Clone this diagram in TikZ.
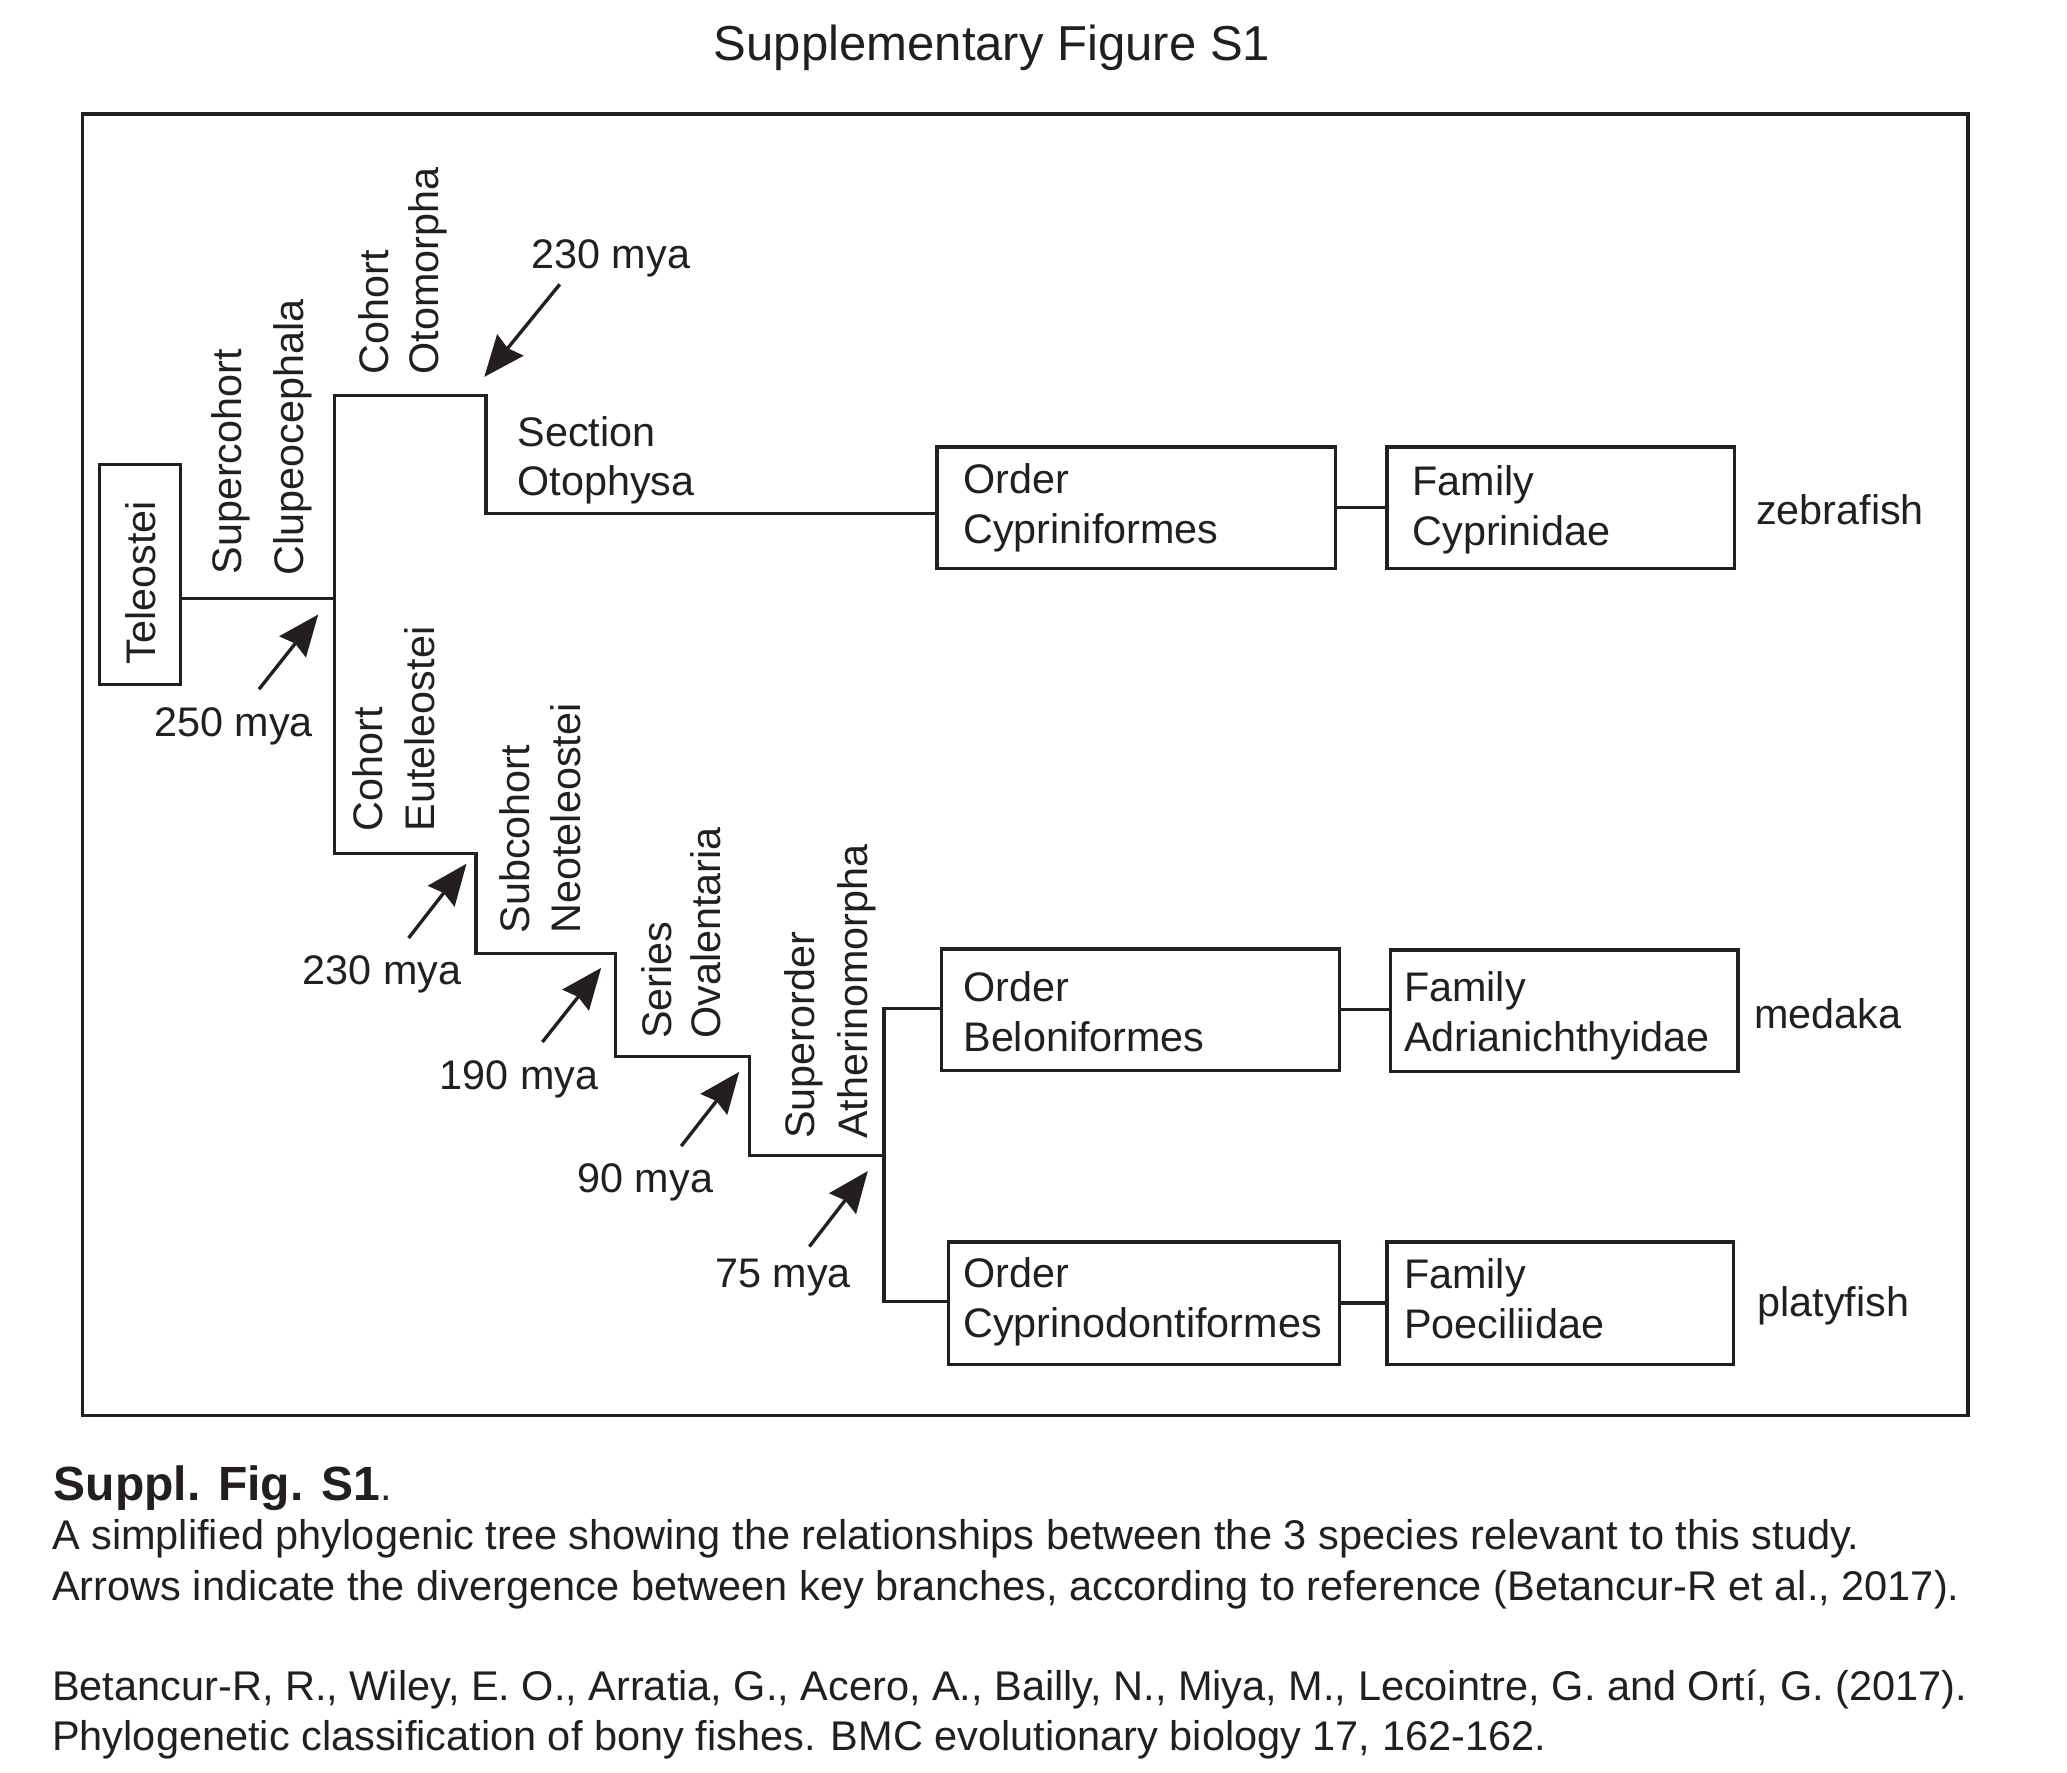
\documentclass[tikz,border=0pt]{standalone}
\usepackage{fontspec}
\setmainfont{Liberation Sans}
\usetikzlibrary{arrows.meta}
\definecolor{ink}{HTML}{231F20}
\newcommand\fsmain{\fontsize{15.5pt}{18.5pt}\selectfont}
\newcommand\fscap{\fontsize{15.56pt}{18.5pt}\selectfont}
\newcommand\fstitle{\fontsize{18.4pt}{22pt}\selectfont}
\newcommand\fsbold{\fontsize{18.0pt}{22pt}\selectfont\bfseries}
\begin{document}
\begin{tikzpicture}[x=0.375pt, y=-0.375pt,
  txt/.style={anchor=base west, inner sep=0pt, font=\fsmain, text=ink},
  captxt/.style={txt, font=\fscap},
  rot/.style={txt, rotate=90},
  box/.style={draw=ink, line width=1.26pt, inner sep=0pt, minimum height=45.7pt},
  tree/.style={draw=ink, line width=1.26pt},
  arr/.style={draw=ink, line width=1.26pt, -{Stealth[length=15.4pt, width=12.6pt, inset=1.5pt]}}]
\useasboundingbox (0,0) rectangle (2067,1772);

% title
\node[txt, font=\fstitle] (title) at (713.3,60) {Supplementary Figure S1};

% frame
\draw[tree] (82.2,114) rectangle (1967.9,1415.4);

% boxes
\node[box, minimum width=30.3pt, minimum height=82.35pt] (tel) at (139.8,574.5) {};
\node[rot] (telt) at (155.7,664.8) {Teleostei};

\node[box, minimum width=149.5pt] (oc) at (1136.4,507.75) {};
\node[box, minimum width=130.2pt] (fc) at (1560.7,507.75) {};
\node[box, minimum width=149.2pt, minimum height=45.6pt] (ob) at (1140.35,1009.75) {};
\node[box, minimum width=130.2pt, minimum height=45.5pt] (fa) at (1564.3,1010.7) {};
\node[box, minimum width=146.5pt, minimum height=45.9pt] (ocd) at (1143.95,1303.05) {};
\node[box, minimum width=129.9pt, minimum height=45.9pt] (fp) at (1560.35,1303.05) {};

% box texts
\node[txt] (oc1) at (962.9,493.7) {Order};
\node[txt] (oc2) at (962.9,543) {Cypriniformes};
\node[txt] (fc1) at (1412,495.9) {Family};
\node[txt] (fc2) at (1412,545.9) {Cyprinidae};
\node[txt] (ob1) at (962.9,1001.8) {Order};
\node[txt] (ob2) at (962.9,1051.8) {Beloniformes};
\node[txt] (fa1) at (1403.6,1001.8) {Family};
\node[txt] (fa2) at (1403.6,1051.8) {Adrianichthyidae};
\node[txt] (ocd1) at (962.9,1287.5) {Order};
\node[txt] (ocd2) at (962.9,1337.5) {Cyprinodontiformes};
\node[txt] (fp1) at (1403.6,1288.6) {Family};
\node[txt] (fp2) at (1403.6,1338.6) {Poeciliidae};

% species
\node[txt] (zeb) at (1755.7,524.9) {zebrafish};
\node[txt] (med) at (1753.6,1028.6) {medaka};
\node[txt] (pla) at (1757,1316) {platyfish};

% rotated clade labels
\node[rot] (sc1) at (241.7,575) {Supercohort};
\node[rot] (sc2) at (303.3,576) {Clupeocephala};
\node[rot] (co1) at (388,375) {Cohort};
\node[rot] (co2) at (438,375) {Otomorpha};
\node[rot] (ce1) at (382,831.8) {Cohort};
\node[rot] (ce2) at (434.3,831.8) {Euteleostei};
\node[rot] (sn1) at (529,933.9) {Subcohort};
\node[rot] (sn2) at (580,933.9) {Neoteleostei};
\node[rot] (so1) at (671.8,1039.2) {Series};
\node[rot] (so2) at (720.8,1039.2) {Ovalentaria};
\node[rot] (sa1) at (814.7,1139.2) {Superorder};
\node[rot] (sa2) at (867.8,1139.2) {Atherinomorpha};

% section label
\node[txt] (sec1) at (517,446.3) {Section};
\node[txt] (sec2) at (517,495.3) {Otophysa};

% mya labels
\node[txt] (m230a) at (531,268.8) {230 mya};
\node[txt] (m250) at (153.7,736.1) {250 mya};
\node[txt] (m230b) at (302.4,984.1) {230 mya};
\node[txt] (m190) at (439.2,1089) {190 mya};
\node[txt] (m90) at (577,1192.2) {90 mya};
\node[txt] (m75) at (714.7,1287) {75 mya};

% tree coordinates
\coordinate (j0) at (334.3,598.2);
\coordinate (u1) at (334.3,395.3);
\coordinate (u2) at (486,395.3);
\coordinate (u3) at (486,513.7);
\coordinate (l1) at (334.3,853.5);
\coordinate (l2) at (476,853.5);
\coordinate (l3) at (476,953.5);
\coordinate (l4) at (615.5,953.5);
\coordinate (l5) at (615.5,1056.3);
\coordinate (l6) at (749.4,1056.3);
\coordinate (l7) at (749.4,1155.5);
\coordinate (l8) at (884,1155.5);
\coordinate (n1) at (884,1008.8);
\coordinate (n2) at (884,1301.5);

\draw[tree] (tel.east |- j0) -- (j0);
\draw[tree] (oc.west |- u3) -- (u3) -- (u2) -- (u1) -- (l1) -- (l2) -- (l3) -- (l4) -- (l5) -- (l6) -- (l7) -- (l8);
\draw[tree] (ob.west |- n1) -- (n1) -- (n2) -- (ocd.west |- n2);
\draw[tree] (oc.east) -- (fc.west);
\draw[tree] (ob.east) -- (ob.east -| fa.west);
\draw[tree] (ocd.east) -- (fp.west);

% arrows
\coordinate (s230a) at (559.8,284.3);  \coordinate (e230a) at (484.3,376.9);
\coordinate (s250) at (259,689.2);     \coordinate (e250) at (318.2,614.5);
\coordinate (s230b) at (408.6,938);    \coordinate (e230b) at (466.5,863.7);
\coordinate (s190) at (542.4,1042);    \coordinate (e190) at (601.2,967.8);
\coordinate (s90) at (681.2,1146.1);   \coordinate (e90) at (739.2,1071.8);
\coordinate (s75) at (809.4,1246.5);   \coordinate (e75) at (867.8,1171);
\draw[arr] (s230a) -- (e230a);
\draw[arr] (s250) -- (e250);
\draw[arr] (s230b) -- (e230b);
\draw[arr] (s190) -- (e190);
\draw[arr] (s90) -- (e90);
\draw[arr] (s75) -- (e75);

% caption
\node[txt, font=\fsbold] (cap0) at (53.3,1500) {Suppl. Fig. S1{\fscap\mdseries .}};
\node[captxt] (cap1) at (51.7,1549.3) {A simplified phylogenic tree showing the relationships between the 3 species relevant to this study.};
\node[captxt] (cap2) at (51.7,1600) {Arrows indicate the divergence between key branches, according to reference (Betancur-R et al., 2017).};
\node[captxt] (cap3) at (51.7,1700) {Betancur-R, R., Wiley, E. O., Arratia, G., Acero, A., Bailly, N., Miya, M., Lecointre, G. and Ortí, G. (2017).};
\node[captxt] (cap4) at (51.7,1750) {Phylogenetic classification of bony fishes. BMC evolutionary biology 17, 162-162.};
\end{tikzpicture}
\end{document}
